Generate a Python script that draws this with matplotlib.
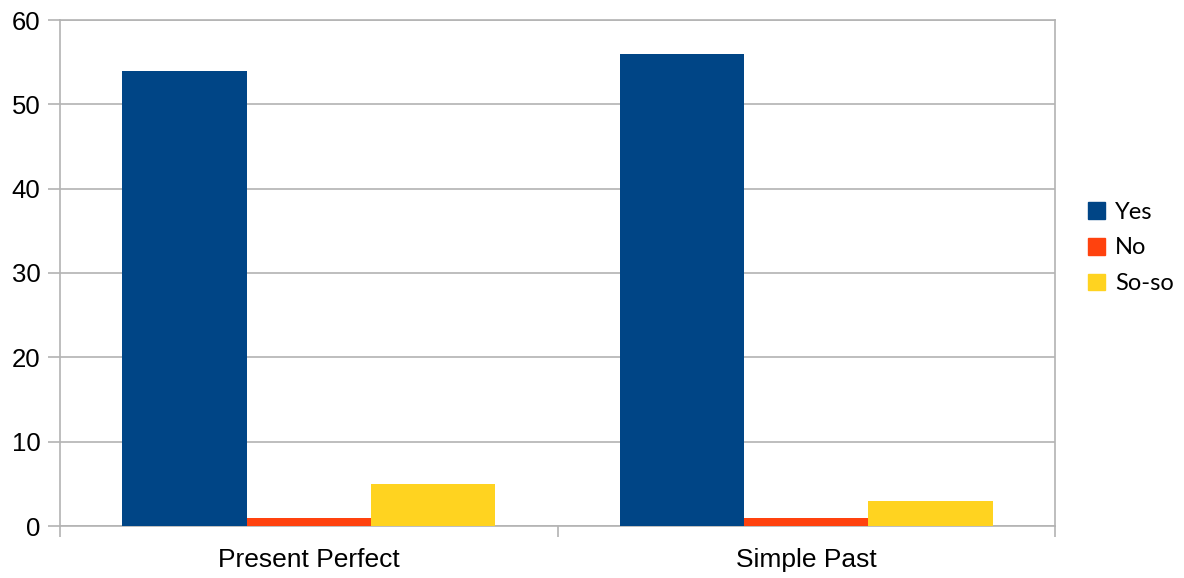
import matplotlib
matplotlib.use("Agg")
import matplotlib.pyplot as plt
import numpy as np
from matplotlib.patches import Patch

categories = ["Present Perfect", "Simple Past"]
series_names = ["Yes", "No", "So-so"]
yes_vals = [54, 56]
no_vals = [1, 1]
soso_vals = [5, 3]
colors = ["#004586", "#ff420e", "#ffd320"]

plt.rcParams["font.family"] = ["Liberation Sans", "DejaVu Sans"]

fig = plt.figure(figsize=(11.84, 5.78), dpi=100)
ax = fig.add_axes([60 / 1184, 1 - 526 / 578, 995 / 1184, 506 / 578])

x = np.arange(len(categories))
w = 0.25
for i, (vals, c) in enumerate(zip([yes_vals, no_vals, soso_vals], colors)):
    ax.bar(x + (i - 1) * w, vals, width=w, color=c, zorder=3)

ax.set_xlim(-0.5, 1.5)
ax.set_ylim(0, 60)
ax.set_yticks(range(0, 61, 10))
ax.grid(axis="y", color="#b3b3b3", linewidth=1.2, zorder=0)
for s in ax.spines.values():
    s.set_color("#b3b3b3")
    s.set_linewidth(1.2)

ax.set_xticks(x)
ax.set_xticklabels(categories, fontsize=19)
ax.set_xticks([-0.5, 0.5, 1.5], minor=True)
ax.tick_params(axis="x", which="major", length=0, pad=16)
ax.tick_params(axis="x", which="minor", length=8, color="#b3b3b3", width=1.2)
ax.tick_params(axis="y", length=9, color="#b3b3b3", width=1.2, labelsize=18.5, pad=5)

# legend on the right, no frame
handles = [Patch(color=c) for c in colors]
fig.legend(handles, series_names, loc="center left", bbox_to_anchor=(1088 / 1184, 1 - 248 / 578),
           frameon=False, prop={"family": "Lato", "size": 17}, borderaxespad=0, borderpad=0,
           handlelength=0.7, handleheight=0.7, handletextpad=0.45, labelspacing=0.62)

fig.savefig("out.png", dpi=100)
